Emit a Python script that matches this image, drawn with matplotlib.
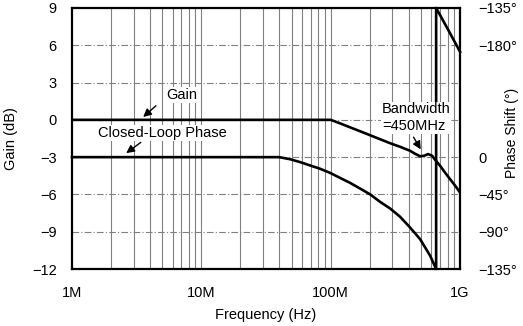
import numpy as np
import matplotlib
matplotlib.use('Agg')
import matplotlib.pyplot as plt

plt.rcParams['font.family'] = ['Liberation Sans', 'DejaVu Sans']
plt.rcParams['axes.unicode_minus'] = True

# gain curve (Hz, dB)
gain_f = [1e6, 1.0e8, 1.18e8, 1.41e8, 1.69e8, 2.02e8, 2.41e8, 2.88e8, 3.44e8, 4.11e8,
          4.49e8, 4.91e8, 5.27e8, 5.66e8, 6.08e8, 6.41e8, 7.0e8, 7.66e8, 8.37e8, 9.15e8, 1e9]
gain_db = [0, 0, -0.28, -0.6, -0.92, -1.24, -1.56, -1.88, -2.17, -2.49,
           -2.73, -2.93, -2.89, -2.75, -2.89, -3.21, -3.69, -4.25, -4.77, -5.29, -5.85]

# closed-loop phase (Hz, degrees)
phase_f = [1e6, 3.99e7, 4.85e7, 5.8e7, 6.92e7, 8.27e7, 9.89e7, 1.18e8, 1.41e8, 1.69e8,
           2.02e8, 2.41e8, 2.88e8, 3.44e8, 4.11e8, 4.91e8, 5.37e8, 5.87e8, 6.53e8, 8.07e8, 1e9]
phase_deg = [0, 0, -2.5, -6, -10, -14, -19, -25, -31, -38,
             -45, -54, -62, -72, -85, -99, -109, -119, -135, -161, -188]

left_ticks = [9, 6, 3, 0, -3, -6, -9, -12]
right_ticks = [9, 6, -3, -6, -9, -12]
right_labels = ['\u2212135°', '\u2212180°', '0', '\u221245°', '\u221290°', '\u2212135°']
x_ticks = [1e6, 1e7, 1e8, 1e9]
x_labels = ['1M', '10M', '100M', '1G']

#phase -> position on the gain scale (3 dB per 45°, wraps at -135°)
pf = np.array(phase_f)
pd_ = np.array(phase_deg, dtype=float)
low = pd_ >= -135
y_low = -3 + pd_[low] / 15
y_up = 9 + (pd_[~low] + 135) / 15
wrap_f = pf[low][-1]
px = np.concatenate([pf[low], [wrap_f], pf[~low]])
py = np.concatenate([y_low, [9], y_up])

fig = plt.figure(figsize=(5.23, 3.26), dpi=100)
ax = fig.add_axes([0.1377, 0.1748, 0.742, 0.8007])
ax.set_xscale('log')
ax.set_xlim(1e6, 1e9)
ax.set_ylim(-12, 9)

# grid
for dec in [1e6, 1e7, 1e8]:
    for m in range(1, 10):
        if m == 1 and dec == 1e6:
            continue
        ax.axvline(dec * m, color='0.5', lw=0.8, zorder=1)
for t in left_ticks[1:-1]:
    ax.axhline(t, color='0.5', lw=0.8, dashes=(6, 2, 1, 2), zorder=1)

ax.plot(gain_f, gain_db, color='black', lw=1.9, zorder=3)
ax.plot(px, py, color='black', lw=1.9, zorder=3, clip_on=False)

ax.set_xticks(x_ticks)
ax.set_xticklabels(x_labels)
ax.minorticks_off()
ax.set_yticks(left_ticks)
ax.set_yticklabels([str(t).replace('-', '\u2212') for t in left_ticks])
ax.tick_params(length=0, labelsize=10.5, pad=11)
ax.tick_params(axis='x', pad=12)
for s in ax.spines.values():
    s.set_linewidth(1.6)
ax.set_xlabel('Frequency (Hz)', fontsize=10.5, labelpad=6)
ax.set_ylabel('Gain (dB)', fontsize=10.5, labelpad=10)

ax2 = ax.twinx()
ax2.set_ylim(-12, 9)
ax2.set_yticks(right_ticks)
ax2.set_yticklabels(right_labels)
ax2.tick_params(length=0, labelsize=10.5, pad=13)
for s in ax2.spines.values():
    s.set_visible(False)
ax2.set_ylabel('Phase Shift (°)', fontsize=10)
ax2.yaxis.set_label_coords(1.117, 0.52)

arw = dict(arrowstyle='-|>', color='black', lw=1.0, mutation_scale=12)
bb = dict(facecolor='white', edgecolor='none', pad=0.5)
ax.annotate('', xy=(3.42e6, 0.08), xytext=(4.62e6, 1.28), arrowprops=arw)
ax.text(7.1e6, 2.0, 'Gain', fontsize=10.5, ha='center', va='center', bbox=bb)
ax.annotate('', xy=(2.52e6, -2.81), xytext=(3.54e6, -1.68), arrowprops=arw)
ax.text(4.97e6, -1.04, 'Closed-Loop Phase', fontsize=10.5, ha='center', va='center', bbox=bb)
ax.annotate('', xy=(5.09e8, -2.57), xytext=(4.26e8, -1.2), arrowprops=arw)
ax.text(2.49e8, 0.16, 'Bandwidth\n=450MHz', fontsize=10.5, ha='left', va='center',
        linespacing=1.25, bbox=bb)

fig.savefig('out.png', dpi=100)
